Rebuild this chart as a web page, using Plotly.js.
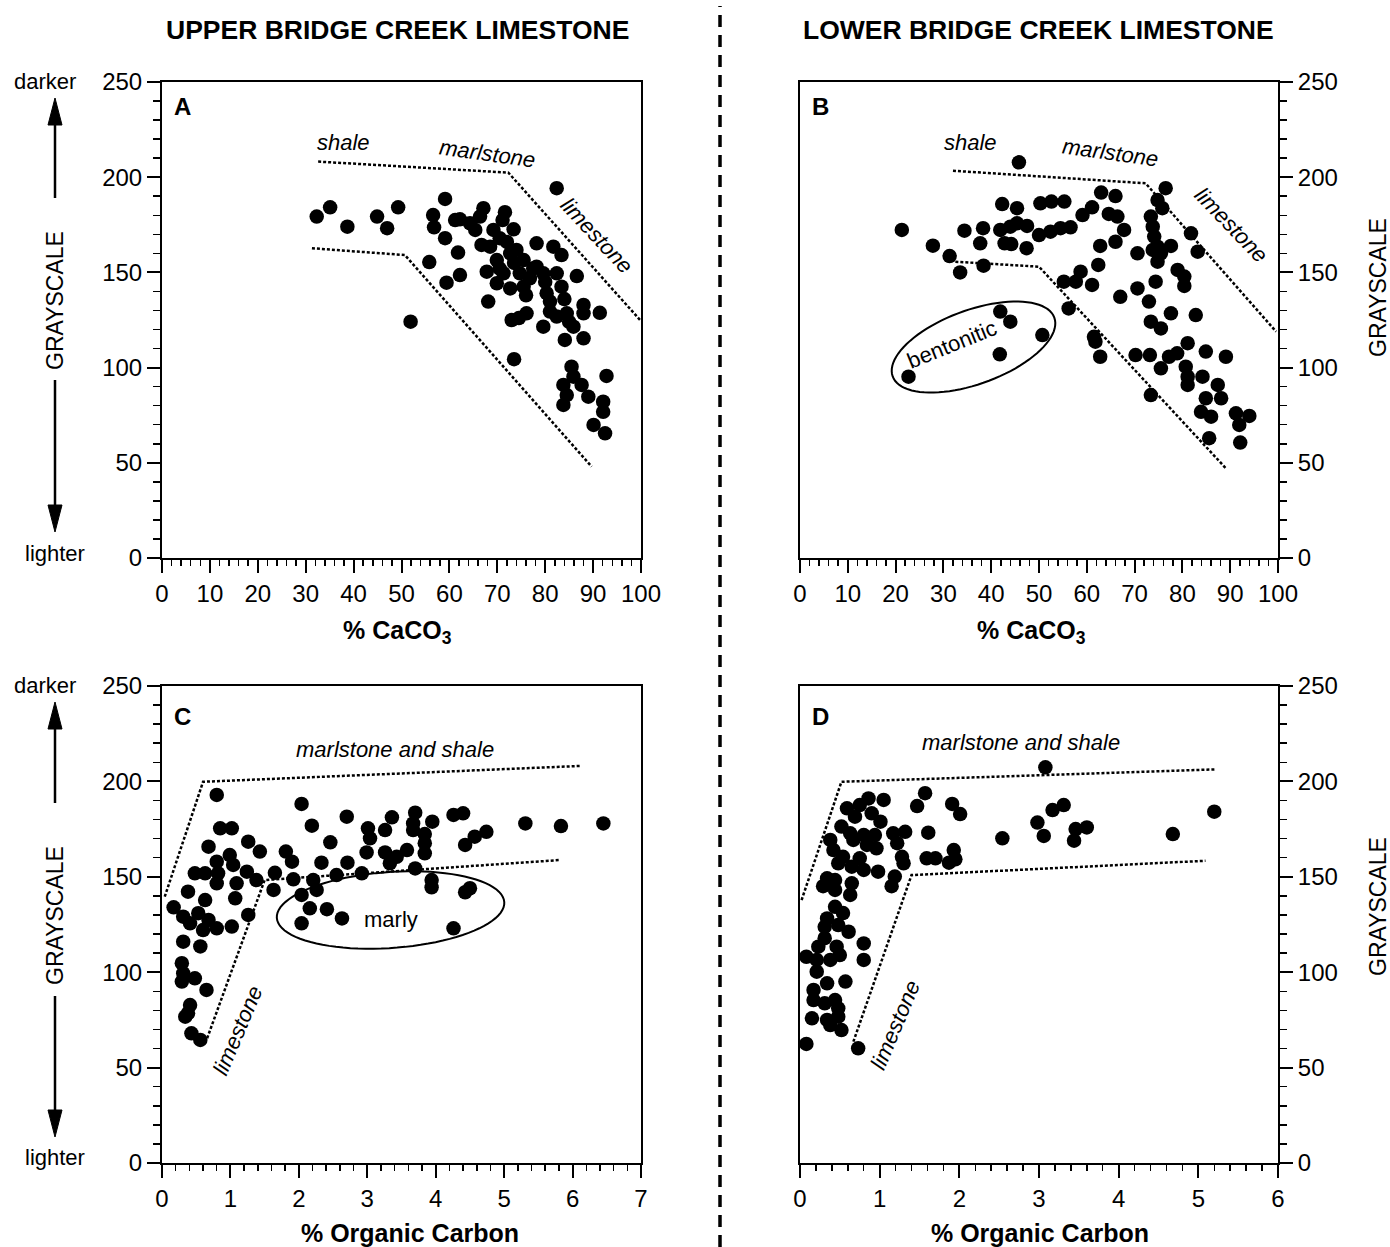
<!DOCTYPE html>
<html>
<head>
<meta charset="utf-8">
<script src="https://cdn.plot.ly/plotly-3.0.1.min.js"></script>
<style>html,body{margin:0;padding:0;background:#fff;}#chart{width:1390px;height:1247px;}</style>
</head>
<body>
<div id="chart"></div>
<script>
// ---------------- DATA ----------------
// Panel A: Upper Bridge Creek, % CaCO3 vs grayscale
const aCaCO3 = [32.3,35.1,38.7,44.9,47.0,49.3,51.9,59.1,56.6,56.8,55.8,59.1,61.2,61.8,59.4,62.2,62.2,64.3,66.4,67.1,65.4,66.7,69.2,71.6,71.1,73.4,68.5,69.9,71.3,67.8,69.9,68.1,72.7,74.0,75.5,74.7,72.7,75.5,76.8,78.2,79.6,78.2,81.7,83.4,82.4,83.4,86.6,80.3,81.0,81.0,82.4,84.5,79.6,85.9,88.0,88.0,91.4,73.0,76.1,84.1,88.0,73.5,85.5,85.9,83.8,87.6,84.5,89.0,92.8,92.1,92.1,83.8,90.1,92.5,82.4,70.5,72.0,73.5,76.0,77.5,80.0,84.0,85.0,74.5,70.5];
const aGray  = [179.3,184.2,174,179.3,173.2,184.2,124.1,188.6,180.1,173.7,155.4,168,177.5,160.4,144.6,148.6,177.9,175.8,179.3,183.7,172.3,164.4,172.3,181.6,177.5,172.6,163.5,156.5,149.5,150.4,144.3,134.7,160,161.8,156.5,149.5,141.6,142.5,146.9,153,149.5,165.3,163.5,159.1,149.5,142.5,148.1,139.1,134.7,129.4,126.8,128.5,121.5,121.5,132.9,128.5,128.8,125,128.5,114.5,115.4,104.4,100.5,95.2,90.9,90.9,85.6,84.7,95.6,82.1,76.8,80.4,69.9,65.5,194.2,168,166,155,138,152,145,136,124,126,152];

// Panel B: Lower Bridge Creek, % CaCO3 vs grayscale
const bCaCO3 = [21.3,27.8,31.3,33.5,38.4,34.4,37.7,38.3,42.3,45.4,45.8,41.9,44.0,45.4,47.5,42.8,44.2,47.4,50.3,52.6,55.3,50.0,52.4,54.5,56.6,59.1,61.1,63.0,66.0,64.6,66.4,67.8,66.0,70.6,76.5,74.8,75.8,73.4,73.8,74.1,74.8,73.8,75.5,77.6,74.8,81.8,83.2,62.8,62.4,58.7,57.7,55.2,61.1,56.2,67.0,70.6,74.4,73.0,79.0,80.4,80.4,77.6,82.8,73.4,75.5,61.5,61.8,62.8,70.2,73.2,77.2,78.9,81.1,84.9,89.1,75.5,80.7,81.1,84.2,81.1,87.4,84.9,88.1,73.4,83.9,86.0,91.2,94.0,91.9,85.6,92.1,22.7,41.9,44.0,50.7,41.8];
const bGray  = [172.3,164,158.6,150,153.5,171.9,165.3,173.2,185.9,183.7,207.8,172.3,174,175.8,174.4,165.3,164.9,162.7,186.3,187.2,187.2,169.6,171.4,173.2,173.7,180.1,184.2,191.9,190.1,180.7,179.3,172.3,166.1,160,194.2,188,183.7,179.3,174,168.8,163.5,161.8,160,163.9,155.6,170.5,160.9,163.9,153.9,150.4,145.1,145.1,143.4,131.1,137.2,141.6,145.1,134.7,151.3,147.8,142.9,128.5,127.6,124.1,120.6,116.2,113.6,105.7,106.6,106.6,105.7,107.5,112.8,108.4,105.7,99.6,100.5,95.2,95.2,90.9,90.9,83.9,83.9,85.6,76.8,74.2,76,74.6,69.9,62.9,60.6,95.2,129.4,124.1,117.1,107];

// Panel C: Upper Bridge Creek, % organic carbon vs grayscale
const cOrgC = [0.80,2.04,2.70,2.19,3.36,3.26,3.01,3.04,2.46,3.70,3.67,3.95,4.26,4.40,4.74,4.57,4.43,5.31,5.83,6.45,3.67,3.84,3.84,3.84,3.58,3.43,3.33,3.26,2.99,2.71,2.33,2.92,2.55,3.70,3.94,3.94,4.50,4.43,4.26,1.81,1.90,1.65,1.63,1.92,2.21,2.26,2.04,2.16,2.41,2.63,2.04,1.26,1.43,1.38,1.26,1.07,1.02,0.85,1.02,0.68,0.80,0.99,1.04,1.24,1.09,0.80,0.82,0.63,0.48,0.38,0.17,0.31,0.63,0.53,0.41,0.68,0.80,0.60,0.31,0.56,0.29,0.31,0.29,0.48,0.65,0.41,0.34,0.43,0.56,0.38];
const cGray = [192.9,188.2,181.5,176.8,181.2,174.5,175.4,170.2,168.1,183.6,178,178.9,182.4,183.3,173.6,171,166.7,178,176.6,178,174.5,172.4,167.6,162.3,164,160.5,157.1,162.8,162.8,157.4,157.4,151.8,150.9,154.4,148.3,144.5,144,141.9,123,163.2,157.9,152.1,143.1,148.7,148.3,143.1,140.5,133.5,133,128.2,125.6,168.4,163.2,148.3,130,138.7,123.9,175.4,175.4,165.8,157.9,161.4,156.2,152.7,146.6,146.6,151.8,151.8,151.8,142.2,134,129.1,137.8,130.9,125.6,127.4,123,122.1,116,113.5,104.7,99.4,95.1,96.8,90.7,82.8,76.7,68,64.5,78.5];

// Panel D: Lower Bridge Creek, % organic carbon vs grayscale
const dOrgC = [3.08,5.20,4.68,3.31,3.17,2.98,3.06,2.54,3.46,3.60,3.44,1.57,1.47,1.91,2.01,1.61,1.59,1.70,1.93,1.95,1.87,0.86,1.05,0.75,0.59,0.90,0.69,1.01,0.52,0.63,0.80,0.94,1.17,1.32,1.22,1.28,1.30,0.67,0.84,0.96,0.38,0.42,0.54,0.75,0.65,0.80,0.98,0.48,0.34,0.44,0.65,1.19,1.15,0.29,0.44,0.63,0.44,0.54,0.34,0.48,0.61,0.31,0.31,0.23,0.46,0.50,0.80,0.80,0.08,0.21,0.38,0.21,0.57,0.17,0.34,0.44,0.31,0.17,0.48,0.15,0.34,0.48,0.38,0.52,0.08,0.73];
const dGray = [207.4,184.1,172.4,187.6,185,178.4,171.4,170.2,175,175.9,168.9,193.8,187.1,188.2,182.9,173.1,159.7,159.7,164,159.2,157.4,191.1,190.3,187.6,185.9,183.3,181.5,178.9,176.3,172.8,171.9,171.9,172.8,173.6,167.6,160.5,157.1,169.3,166.7,164.9,169.3,164,160.5,159.7,155.3,153.6,152.7,157.1,149.2,148.3,146.6,150.1,145.1,145.1,143.1,140.5,134.3,131,128.2,124.7,121.2,123.8,117.8,113.4,113.4,109,115.1,106.4,108.1,106.4,106.4,100.3,95.1,90.7,94.2,85.4,83.7,85.4,81.1,75.8,75,76.7,72.3,69.7,62.4,60.1];

// Field boundary guide lines (dashed)
const aUpperX = [32.6,72.3,99.8], aUpperY = [208.2,202.4,125];
const aLowerX = [31.3,50.7,89.7], aLowerY = [162.7,159.1,48];
const bUpperX = [32.0,72.3,99.6], bUpperY = [203.4,196.8,118.9];
const bLowerX = [32.5,50.0,89.1], bLowerY = [155.6,153,47.1];
const cUpperX = [0.04,0.60,6.11], cUpperY = [139.6,199.8,208.1];
const cLowerX = [0.66,1.50,5.82], cLowerY = [65.4,148.3,158.8];
const dUpperX = [0.02,0.52,5.22], dUpperY = [137.8,199.8,206.3];
const dLowerX = [0.67,1.40,5.09], dLowerY = [63.6,150.9,158.4];

// Tick / label text
const panelTitles = ['UPPER BRIDGE CREEK LIMESTONE','LOWER BRIDGE CREEK LIMESTONE'];
const xTitles = ['% CaCO<sub>3</sub>','% Organic Carbon'];
const yTitle = 'GRAYSCALE';

// ---------------- DRAWING ----------------
const W = 1390, H = 1247;
const PX = p => p / W;
const PY = p => 1 - p / H;
const FONT = 'Liberation Sans, Arial, Helvetica, sans-serif';

const mk = {color:'black', size:14.5, line:{width:0}};
const dashLine = {color:'black', width:2.5, dash:'3px,2px'};

function pts(x, y, xa, ya){ return {x, y, xaxis:xa, yaxis:ya, type:'scatter', mode:'markers', marker:mk, hoverinfo:'skip', showlegend:false}; }
function ln(x, y, xa, ya){ return {x, y, xaxis:xa, yaxis:ya, type:'scatter', mode:'lines', line:dashLine, hoverinfo:'skip', showlegend:false}; }

const traces = [
  ln(aUpperX,aUpperY,'x','y'), ln(aLowerX,aLowerY,'x','y'), pts(aCaCO3,aGray,'x','y'),
  ln(bUpperX,bUpperY,'x2','y2'), ln(bLowerX,bLowerY,'x2','y2'), pts(bCaCO3,bGray,'x2','y2'),
  ln(cUpperX,cUpperY,'x3','y3'), ln(cLowerX,cLowerY,'x3','y3'), pts(cOrgC,cGray,'x3','y3'),
  ln(dUpperX,dUpperY,'x4','y4'), ln(dLowerX,dLowerY,'x4','y4'), pts(dOrgC,dGray,'x4','y4')
];

const leftDom = [PX(162), PX(641)], rightDom = [PX(800), PX(1278)];
const topDom = [PY(558), PY(82)], botDom = [PY(1163), PY(686)];

function xax(dom, anchor, range, dtick, mdtick){
  return {domain:dom, anchor, range, dtick, tick0:0, showline:true, linewidth:2, linecolor:'black', mirror:true,
    ticks:'outside', ticklen:13, tickwidth:2, tickcolor:'black', showgrid:false, zeroline:false,
    tickfont:{family:FONT, size:24, color:'black'},
    minor:{dtick:mdtick, tick0:0, ticks:'outside', ticklen:6, tickwidth:1.5, tickcolor:'black', showgrid:false}};
}
function yax(dom, anchor, side){
  return {domain:dom, anchor, range:[0,250], dtick:50, tick0:0, side, showline:true, linewidth:2, linecolor:'black', mirror:true,
    ticks:'outside', ticklen:13, tickwidth:2, tickcolor:'black', showgrid:false, zeroline:false,
    tickfont:{family:FONT, size:24, color:'black'},
    minor:{dtick:10, tick0:0, ticks:'outside', ticklen:7, tickwidth:1.5, tickcolor:'black', showgrid:false}};
}

function txt(text, x, y, size, opts){
  return Object.assign({text, x:PX(x), y:PY(y), xref:'paper', yref:'paper', showarrow:false,
    xanchor:'center', yanchor:'middle', font:{family:FONT, size, color:'black'}}, opts||{});
}
function dtxt(text, x, y, xr, yr, size, angle){
  return {text, x, y, xref:xr, yref:yr, showarrow:false, xanchor:'center', yanchor:'middle',
    textangle:angle||0, font:{family:FONT, size, color:'black'}};
}

const annotations = [
  txt('<b>'+panelTitles[0]+'</b>', 398, 30, 26.5),
  txt('<b>'+panelTitles[1]+'</b>', 1038, 30, 26.5),
  txt('<b>'+xTitles[0]+'</b>', 398, 632, 25),
  txt('<b>'+xTitles[0]+'</b>', 1031, 632, 25),
  txt('<b>'+xTitles[1]+'</b>', 410, 1233, 25),
  txt('<b>'+xTitles[1]+'</b>', 1040, 1233, 25),
  txt('<b>A</b>', 182, 107, 24), txt('<b>B</b>', 820, 107, 24),
  txt('<b>C</b>', 182, 716, 24), txt('<b>D</b>', 820, 716, 24),
  // left grayscale scales
  txt('darker', 45, 82, 22), txt('lighter', 55, 553, 22),
  txt(yTitle, 55, 300, 23, {textangle:-90}),
  txt('darker', 45, 685, 22), txt('lighter', 55, 1157, 22),
  txt(yTitle, 55, 915, 23, {textangle:-90}),
  // right titles
  txt(yTitle, 1378, 288, 23, {textangle:-90}),
  txt(yTitle, 1378, 907, 23, {textangle:-90}),
  // field labels
  dtxt('<i>shale</i>', 37.8, 218, 'x','y', 22),
  dtxt('<i>marlstone</i>', 68, 212.5, 'x','y', 22, 8),
  dtxt('<i>limestone</i>', 90.8, 169.6, 'x','y', 22, 47),
  dtxt('<i>shale</i>', 35.6, 218, 'x2','y2', 22),
  dtxt('<i>marlstone</i>', 65, 213, 'x2','y2', 22, 8),
  dtxt('<i>limestone</i>', 90.1, 174.9, 'x2','y2', 22, 46),
  dtxt('bentonitic', 31.7, 112, 'x2','y2', 22, -22),
  dtxt('<i>marlstone and shale</i>', 3.40, 216.5, 'x3','y3', 22),
  dtxt('<i>limestone</i>', 1.10, 69.7, 'x3','y3', 22, -67),
  dtxt('marly', 3.35, 127.4, 'x3','y3', 22),
  dtxt('<i>marlstone and shale</i>', 2.77, 220.6, 'x4','y4', 22),
  dtxt('<i>limestone</i>', 1.19, 72.3, 'x4','y4', 22, -67)
];

function ellipsePath(a, b, deg){
  const r = deg * Math.PI / 180, n = 90;
  let d = '';
  for (let i = 0; i <= n; i++){
    const t = 2 * Math.PI * i / n;
    const ex = a * Math.cos(t), ey = b * Math.sin(t);
    const px = ex * Math.cos(r) - ey * Math.sin(r);
    const py = ex * Math.sin(r) + ey * Math.cos(r);
    d += (i === 0 ? 'M' : 'L') + px.toFixed(2) + ',' + py.toFixed(2);
  }
  return d + 'Z';
}

// vertical arrow (line + filled head) in page pixels
function arrowShapes(x, tailY, tipY){
  const dir = tipY < tailY ? 1 : -1;   // 1 = pointing up
  const headLen = 27, halfW = 7;
  const baseY = tipY + dir * headLen;
  return [
    {type:'line', xref:'paper', yref:'paper', x0:PX(x), x1:PX(x), y0:PY(tailY), y1:PY(baseY),
     line:{color:'black', width:2.5}},
    {type:'path', xref:'paper', yref:'paper',
     path:'M'+PX(x)+','+PY(tipY)+' L'+PX(x-halfW)+','+PY(baseY)+' L'+PX(x+halfW)+','+PY(baseY)+' Z',
     fillcolor:'black', line:{color:'black', width:1}}
  ];
}

const shapes = [
  {type:'line', xref:'paper', yref:'paper', x0:PX(720), x1:PX(720), y0:0, y1:PY(6),
   line:{color:'black', width:3.5, dash:'12px,8px'}},
  {type:'path', xref:'x2', yref:'y2', xsizemode:'pixel', ysizemode:'pixel', xanchor:36.3, yanchor:110.8,
   path:ellipsePath(86, 37, 20), line:{color:'black', width:2}},
  {type:'path', xref:'x3', yref:'y3', xsizemode:'pixel', ysizemode:'pixel', xanchor:3.34, yanchor:132.6,
   path:ellipsePath(114, 38, 4), line:{color:'black', width:2}}
].concat(
  arrowShapes(55, 198, 98), arrowShapes(55, 380, 532),
  arrowShapes(55, 803, 702), arrowShapes(55, 996, 1137)
);

const layout = {
  width:W, height:H, margin:{l:0,r:0,t:0,b:0}, paper_bgcolor:'white', plot_bgcolor:'white',
  showlegend:false, font:{family:FONT, color:'black'},
  xaxis: xax(leftDom,'y',[0,100],10,2),
  yaxis: yax(topDom,'x','left'),
  xaxis2: xax(rightDom,'y2',[0,100],10,2),
  yaxis2: yax(topDom,'x2','right'),
  xaxis3: xax(leftDom,'y3',[0,7],1,0.2),
  yaxis3: yax(botDom,'x3','left'),
  xaxis4: xax(rightDom,'y4',[0,6],1,0.2),
  yaxis4: yax(botDom,'x4','right'),
  annotations, shapes
};

Plotly.newPlot('chart', traces, layout, {staticPlot:true, displayModeBar:false});
</script>
</body>
</html>
